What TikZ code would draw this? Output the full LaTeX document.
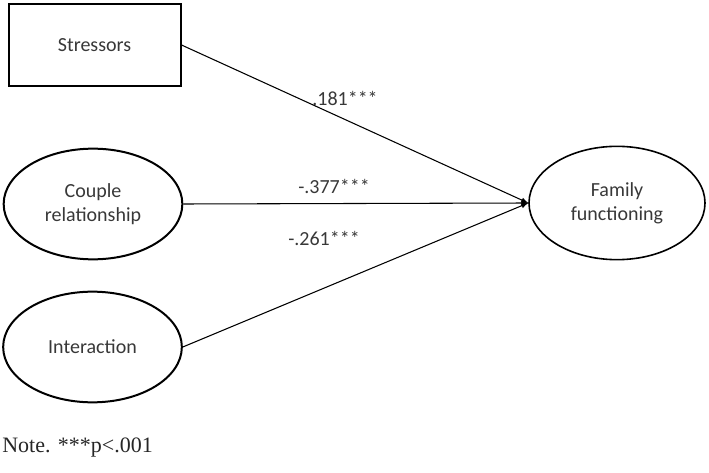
\documentclass[tikz,border=0pt]{standalone}
\usepackage{fontspec}
\setmainfont{Carlito}
\newfontfamily\notefont{Liberation Serif}
\usepackage{tikz}
\usetikzlibrary{arrows,shapes,positioning}

\begin{document}
\begin{tikzpicture}[x=0.75pt,y=-0.75pt,font=\fontsize{15}{18}\selectfont,text=black!78]
        \useasboundingbox (0,0) rectangle (709,473);

        \node[draw,line width=1.5pt,minimum width=129pt,minimum height=62pt] (S1) at (94.5,45) {Stressors} ;
        \node[draw,line width=1.5pt,ellipse,minimum width=134pt,minimum height=83pt,align=center] (C1) at (93,204) {Couple\\relationship} ;
        \node[draw,line width=1.5pt,ellipse,minimum width=134pt,minimum height=83pt] (I1) at (92.5,347) {Interaction} ;

        \node[draw,line width=1.2pt,ellipse,minimum width=132pt,minimum height=85pt,align=center] (F1) at (617,203) {Family\\functioning} ;

        \node (L1) at (345,98) {.181***} ;
        \node (L2) at (334,186) {-.377***} ;
        \node (L3) at (324,238) {-.261***} ;

        \node[anchor=west,inner sep=0pt,text=black!85,font=\notefont\fontsize{16.5}{19}\selectfont] (N1) at (2,448) {Note. ***p<.001} ;

        \draw[->,>=latex,line width=0.8pt] (S1.east) -- (F1.west) ;
        \draw[->,>=latex,line width=0.8pt] (C1.east) -- (F1.west) ;
        \draw[->,>=latex,line width=0.8pt] (I1.east) -- (F1.west) ;
    \end{tikzpicture}
\end{document}
